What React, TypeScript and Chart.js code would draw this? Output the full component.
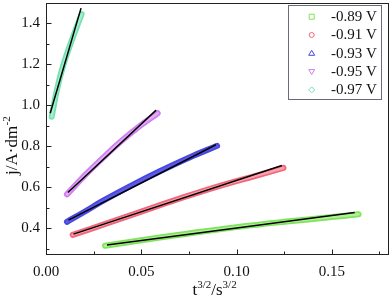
import React, { useEffect, useRef } from "react";
import { Chart, registerables } from "chart.js";

Chart.register(...registerables);

const SERIES_LABELS = ["-0.89 V", "-0.91 V", "-0.93 V", "-0.95 V", "-0.97 V"];
const SERIES_COLORS = ["#7fe35c", "#f2667a", "#4848e0", "#d07ff0", "#72e2b2"];
const SERIES_INNER = ["#b4f09a", "#f7a2ad", "#5a5ae6", "#e2aef5", "#a8efd0"];
const MARKERS = ["square", "circle", "triangle", "invTriangle", "diamond"];

// measured data bands (x: t^{3/2}/s^{3/2}, y: j/A·dm^-2)
const X_089 = [0.031, 0.05, 0.075, 0.1, 0.125, 0.15, 0.164];
const Y_089 = [0.315, 0.342, 0.375, 0.406, 0.432, 0.455, 0.469];
const X_091 = [0.014, 0.03, 0.05, 0.07, 0.09, 0.11, 0.1246];
const Y_091 = [0.368, 0.418, 0.482, 0.545, 0.604, 0.656, 0.695];
const X_093 = [0.011, 0.02, 0.03, 0.045, 0.06, 0.075, 0.0898];
const Y_093 = [0.432, 0.48, 0.535, 0.61, 0.68, 0.745, 0.803];
const X_095 = [0.011, 0.02, 0.03, 0.04, 0.05, 0.0586];
const Y_095 = [0.566, 0.655, 0.745, 0.83, 0.905, 0.962];
const X_097 = [0.003, 0.0057, 0.0092, 0.0135, 0.0187];
const Y_097 = [0.945, 1.075, 1.2, 1.317, 1.446];

// linear fit lines (endpoints)
const FIT_X = [
  [0.032, 0.162],
  [0.0144, 0.1238],
  [0.0118, 0.0892],
  [0.0115, 0.0578],
  [0.0022, 0.0184],
];
const FIT_Y = [
  [0.319, 0.478],
  [0.372, 0.707],
  [0.44, 0.808],
  [0.575, 0.977],
  [0.962, 1.475],
];

const X_TICKS = [0, 0.05, 0.1, 0.15];
const X_MINOR = [0.025, 0.075, 0.125, 0.175];
const Y_TICKS = [0.4, 0.6, 0.8, 1.0, 1.2, 1.4];
const Y_MINOR = [0.3, 0.5, 0.7, 0.9, 1.1, 1.3];
const X_MIN = 0, X_MAX = 0.18, Y_MIN = 0.27, Y_MAX = 1.5;

const SERIES_X = [X_089, X_091, X_093, X_095, X_097];
const SERIES_Y = [Y_089, Y_091, Y_093, Y_095, Y_097];

const FONT = "'Liberation Serif', 'Times New Roman', serif";
const AXIS_COLOR = "#222";

function drawMarker(ctx: CanvasRenderingContext2D, kind: string, x: number, y: number, r: number) {
  ctx.beginPath();
  if (kind === "square") {
    ctx.rect(x - r, y - r, 2 * r, 2 * r);
  } else if (kind === "circle") {
    ctx.arc(x, y, r, 0, Math.PI * 2);
  } else if (kind === "triangle") {
    ctx.moveTo(x, y - r - 0.5);
    ctx.lineTo(x + r + 0.5, y + r - 0.5);
    ctx.lineTo(x - r - 0.5, y + r - 0.5);
    ctx.closePath();
  } else if (kind === "invTriangle") {
    ctx.moveTo(x, y + r + 0.5);
    ctx.lineTo(x + r + 0.5, y - r + 0.5);
    ctx.lineTo(x - r - 0.5, y - r + 0.5);
    ctx.closePath();
  } else {
    ctx.moveTo(x, y - r - 0.5);
    ctx.lineTo(x + r + 0.5, y);
    ctx.lineTo(x, y + r + 0.5);
    ctx.lineTo(x - r - 0.5, y);
    ctx.closePath();
  }
  ctx.stroke();
}

const framePlugin = {
  id: "frame",
  afterDraw(chart: any) {
    const { ctx, chartArea: a, scales } = chart;
    const xs = scales.x, ys = scales.y;
    ctx.save();
    ctx.strokeStyle = AXIS_COLOR;
    ctx.lineWidth = 1;
    ctx.strokeRect(Math.round(a.left) + 0.5, Math.round(a.top) + 0.5, Math.round(a.right - a.left) - 1, Math.round(a.bottom - a.top) - 1);
    ctx.beginPath();
    const bottom = Math.round(a.bottom) - 0.5;
    const left = Math.round(a.left) + 0.5;
    X_TICKS.forEach((v) => {
      const px = Math.round(xs.getPixelForValue(v)) + 0.5;
      if (v === X_MIN) return;
      ctx.moveTo(px, bottom);
      ctx.lineTo(px, bottom - 5);
    });
    X_MINOR.forEach((v) => {
      const px = Math.round(xs.getPixelForValue(v)) + 0.5;
      ctx.moveTo(px, bottom);
      ctx.lineTo(px, bottom - 3);
    });
    Y_TICKS.forEach((v) => {
      const py = Math.round(ys.getPixelForValue(v)) + 0.5;
      ctx.moveTo(left, py);
      ctx.lineTo(left + 5, py);
    });
    Y_MINOR.forEach((v) => {
      const py = Math.round(ys.getPixelForValue(v)) + 0.5;
      ctx.moveTo(left, py);
      ctx.lineTo(left + 3, py);
    });
    ctx.stroke();

    // Legend
    const lx = 288, ly = 5, lw = 93, lh = 94;
    ctx.fillStyle = "#fff";
    ctx.fillRect(lx, ly, lw, lh);
    ctx.strokeStyle = "#6a6a78";
    ctx.strokeRect(lx + 0.5, ly + 0.5, lw, lh);
    ctx.font = `15px ${FONT}`;
    ctx.textBaseline = "middle";
    ctx.textAlign = "left";
    SERIES_LABELS.forEach((lab, i) => {
      const yy = 16.7 + i * 18.3;
      ctx.strokeStyle = SERIES_COLORS[i];
      ctx.lineWidth = 1;
      drawMarker(ctx, MARKERS[i], 311.7, yy, 2.5);
      ctx.fillStyle = "#111";
      ctx.fillText(lab, 331, yy + 0.5);
    });

    // Y axis title
    ctx.fillStyle = "#111";
    ctx.save();
    ctx.translate(17, 175);
    ctx.rotate(-Math.PI / 2);
    ctx.textBaseline = "alphabetic";
    ctx.font = `17px ${FONT}`;
    const main = "j/A\u00b7dm";
    ctx.fillText(main, 0, 0);
    const w = ctx.measureText(main).width;
    ctx.font = `11px ${FONT}`;
    ctx.fillText("-2", w + 0.5, -7);
    ctx.restore();

    // X axis title
    ctx.textBaseline = "alphabetic";
    let cx = 192.5;
    const by = 295;
    const parts: [string, boolean][] = [["t", false], ["3/2", true], ["/s", false], ["3/2", true]];
    parts.forEach(([t, sup]) => {
      ctx.font = sup ? `11px ${FONT}` : `17px ${FONT}`;
      ctx.fillText(t, cx, sup ? by - 7 : by);
      cx += ctx.measureText(t).width;
    });
    ctx.restore();
  },
};

export default function App() {
  const ref = useRef<HTMLCanvasElement | null>(null);
  useEffect(() => {
    document.body.style.margin = "0";
    const canvas = ref.current!;
    const bands = SERIES_X.map((xs, i) => ({
      label: SERIES_LABELS[i],
      data: xs.map((x, j) => ({ x, y: SERIES_Y[i][j] })),
      showLine: true,
      borderColor: SERIES_COLORS[i],
      backgroundColor: SERIES_COLORS[i],
      borderWidth: 6,
      borderCapStyle: "round" as const,
      borderJoinStyle: "round" as const,
      pointRadius: 0,
      tension: 0.4,
      order: 3,
    }));
    const inners = SERIES_X.map((xs, i) => ({
      label: "inner " + SERIES_LABELS[i],
      data: xs.map((x, j) => ({ x, y: SERIES_Y[i][j] })),
      showLine: true,
      borderColor: SERIES_INNER[i],
      borderWidth: 2.5,
      borderCapStyle: "round" as const,
      pointRadius: 0,
      tension: 0.4,
      order: 2,
    }));
    const fits = FIT_X.map((xs, i) => ({
      label: "fit " + SERIES_LABELS[i],
      data: xs.map((x, j) => ({ x, y: FIT_Y[i][j] })),
      showLine: true,
      borderColor: "#000",
      borderWidth: 1.5,
      pointRadius: 0,
      order: 1,
    }));
    const chart = new Chart(canvas, {
      type: "scatter",
      data: { datasets: [...fits, ...inners, ...bands] as any },
      options: {
        animation: false,
        responsive: false,
        events: [],
        layout: { padding: { top: 3, right: 3, left: 0, bottom: 0 } },
        plugins: { legend: { display: false }, tooltip: { enabled: false } },
        scales: {
          x: {
            type: "linear",
            min: X_MIN,
            max: X_MAX,
            afterBuildTicks: (s: any) => {
              s.ticks = X_TICKS.map((v) => ({ value: v }));
            },
            afterFit: (s: any) => {
              s.height = 50;
              s.paddingLeft = 0;
              s.paddingRight = 0;
            },
            grid: { display: false, drawTicks: false },
            border: { display: false },
            ticks: {
              padding: 8,
              color: "#111",
              font: { family: FONT, size: 15 },
              callback: (v: any) => Number(v).toFixed(2),
              maxRotation: 0,
            },
          },
          y: {
            type: "linear",
            min: Y_MIN,
            max: Y_MAX,
            afterBuildTicks: (s: any) => {
              s.ticks = Y_TICKS.map((v) => ({ value: v }));
            },
            afterFit: (s: any) => {
              s.width = 46;
              s.paddingTop = 0;
              s.paddingBottom = 0;
            },
            grid: { display: false, drawTicks: false },
            border: { display: false },
            ticks: {
              padding: 6,
              color: "#111",
              font: { family: FONT, size: 15 },
              callback: (v: any) => Number(v).toFixed(1),
            },
          },
        },
      },
      plugins: [framePlugin],
    });
    return () => chart.destroy();
  }, []);
  return (
    <div style={{ width: 392, height: 305 }}>
      <canvas ref={ref} width={392} height={305} style={{ display: "block" }} />
    </div>
  );
}
